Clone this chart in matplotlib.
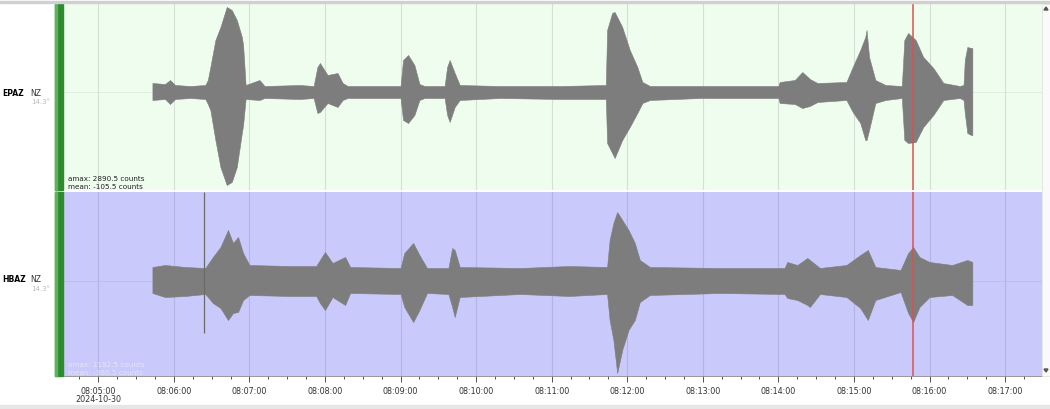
import numpy as np
import matplotlib
matplotlib.use("Agg")
import matplotlib.pyplot as plt
from matplotlib.patches import Rectangle, Polygon
from matplotlib.ticker import MultipleLocator, FuncFormatter

# seconds after 08:05:00 on 2024-10-30
epaz_t = [43, 53, 57, 61, 73, 85, 87, 89, 93, 97, 102, 106, 110, 114, 115, 117,
          128, 132, 160, 171, 174, 176, 182, 190, 194, 198, 240, 242, 246, 251,
          255, 259, 275, 277, 279, 283, 287, 319, 367, 403, 404, 408, 410, 416,
          422, 428, 432, 438, 478, 540, 541, 553, 559, 565, 571, 594, 599, 605,
          609, 610, 612, 617, 625, 638, 640, 643, 649, 655, 663, 671, 684, 687,
          688, 690, 693, 694]
epaz_hi = [297, 264, 396, 231, 198, 231, 396, 825, 1716, 2145, 2805, 2706, 2376,
           1815, 1551, 231, 396, 198, 231, 198, 825, 957, 561, 627, 297, 198, 198,
           1056, 1221, 891, 264, 198, 198, 825, 1056, 627, 231, 198, 198, 231,
           2046, 2607, 2640, 2145, 1386, 825, 330, 198, 198, 198, 330, 396, 660,
           429, 297, 330, 825, 1386, 1815, 2046, 1155, 396, 231, 198, 1716, 1947,
           1716, 1155, 792, 297, 198, 231, 1056, 1485, 1452, 1452]
epaz_lo = [-264, -231, -396, -231, -198, -231, -396, -594, -1584, -2475, -3069,
           -2970, -2475, -1353, -1089, -231, -264, -198, -231, -198, -693, -660,
           -363, -495, -264, -198, -198, -924, -1023, -759, -264, -198, -198,
           -759, -990, -495, -264, -198, -231, -231, -1683, -2013, -2178, -1584,
           -1155, -693, -363, -264, -198, -198, -363, -396, -528, -462, -330,
           -264, -660, -1023, -1584, -1584, -1254, -363, -264, -198, -1584, -1683,
           -1650, -1155, -759, -264, -198, -264, -693, -1353, -1419, -1419]

hbaz_t = [43, 53, 69, 85, 91, 97, 103, 107, 111, 115, 120, 152, 173, 176, 180,
          186, 196, 200, 240, 243, 250, 255, 261, 278, 281, 283, 287, 335, 374,
          404, 406, 409, 412, 416, 421, 426, 430, 438, 494, 545, 547, 555, 563,
          565, 573, 594, 605, 611, 617, 637, 643, 647, 652, 660, 678, 690, 694]
hbaz_hi = [182, 208, 182, 169, 312, 442, 663, 494, 572, 364, 208, 195, 195, 273,
           377, 234, 312, 182, 169, 364, 494, 338, 169, 169, 429, 403, 182, 169,
           195, 182, 533, 754, 897, 793, 663, 494, 273, 182, 169, 169, 247, 208,
           299, 273, 169, 208, 338, 403, 182, 143, 364, 442, 312, 247, 208, 273,
           247]
hbaz_lo = [-156, -208, -195, -169, -286, -351, -507, -416, -403, -247, -182,
           -195, -195, -286, -377, -208, -312, -156, -169, -338, -533, -377,
           -156, -169, -338, -468, -208, -169, -195, -169, -507, -767, -1196,
           -897, -637, -507, -273, -182, -156, -169, -221, -247, -312, -338,
           -169, -208, -351, -507, -247, -143, -416, -533, -338, -208, -182,
           -312, -312]

# single glitch in HBAZ
hbaz_spike_t = 84
hbaz_spike = [-676, 1160]

stations = ["EPAZ", "HBAZ"]
network = "NZ"
distance = "14.3°"
amax = ["2890.5", "1192.5"]
mean = ["-105.5", "-360.5"]
pick_t = 647  # red marker, 08:15:47
date_label = "2024-10-30"

W, H = 1050, 409
fig = plt.figure(figsize=(W / 100, H / 100), dpi=100)
fig.patch.set_facecolor("white")

def fx(px):
    return px / W

def fy(py):
    return 1 - py / H

xlim = (-27.2, 749.3)
left, right = 64, 1042
ax1 = fig.add_axes([fx(left), fy(190), fx(right - left), (190 - 4) / H])
ax2 = fig.add_axes([fx(left), fy(376), fx(right - left), (376 - 192) / H])

trace_col = "#7d7d7d"
for ax, bg, grid, t, hi, lo, ylim in [
        (ax1, "#effdef", "#d3e0d3", epaz_t, epaz_hi, epaz_lo, (-3234, 2904)),
        (ax2, "#c9c9fb", "#b4b4e2", hbaz_t, hbaz_hi, hbaz_lo, (-1235, 1157))]:
    ax.set_facecolor(bg)
    ax.set_xlim(*xlim)
    ax.set_ylim(*ylim)
    for m in range(0, 13):
        ax.axvline(m * 60, color=grid, lw=0.8, zorder=0)
    ax.axhline(0, color=grid, lw=0.6, alpha=0.6, zorder=0)
    ax.fill_between(t, lo, hi, color=trace_col, lw=0.4, edgecolor=trace_col, zorder=2)
    ax.axvline(pick_t, color="#d9534f", lw=1.1, zorder=3)
    for s in ax.spines.values():
        s.set_visible(False)
    ax.set_yticks([])

ax2.vlines(hbaz_spike_t, hbaz_spike[0], hbaz_spike[1], color="#6a6a6a", lw=0.9, zorder=2)

ax1.set_xticks([])
ax2.spines["bottom"].set_visible(True)
ax2.spines["bottom"].set_color("#888888")
ax2.spines["bottom"].set_linewidth(0.6)
ax2.xaxis.set_major_locator(MultipleLocator(60))
ax2.xaxis.set_minor_locator(MultipleLocator(15))
ax2.xaxis.set_major_formatter(FuncFormatter(
    lambda v, p: "08:%02d:%02d" % (5 + int(v) // 60, int(v) % 60)))
ax2.tick_params(axis="x", which="major", length=4, width=0.6, color="#333333",
                labelsize=5.8, labelcolor="#333333", pad=4)
ax2.tick_params(axis="x", which="minor", length=2.5, width=0.6, color="#333333")

# amplitude notes
ax1.text(0.004, 0.045, "amax: %s counts" % amax[0], transform=ax1.transAxes,
         fontsize=5.2, color="#222222", va="bottom")
ax1.text(0.004, 0.0, "mean: %s counts" % mean[0], transform=ax1.transAxes,
         fontsize=5.2, color="#222222", va="bottom")
ax2.text(0.004, 0.045, "amax: %s counts" % amax[1], transform=ax2.transAxes,
         fontsize=5.2, color="#e4e4fb", va="bottom")
ax2.text(0.004, 0.0, "mean: %s counts" % mean[1], transform=ax2.transAxes,
         fontsize=5.2, color="#e4e4fb", va="bottom")

# station labels on the left
for name, yc in zip(stations, [93, 280]):
    fig.text(fx(2), fy(yc), name, fontsize=5.5, fontweight="bold", va="center")
    fig.text(fx(30), fy(yc), network, fontsize=5.5, va="center", color="#333333")
    fig.text(fx(50), fy(yc + 9), distance, fontsize=5, va="center", ha="right",
             color="#bbbbbb")

# green selector bars
for y0, y1 in [(4, 190), (192, 376)]:
    fig.patches.append(Rectangle((fx(55), fy(y1)), fx(8), (y1 - y0) / H,
                                 transform=fig.transFigure, color="#2e8b2e"))
    fig.patches.append(Rectangle((fx(55), fy(y1)), fx(2), (y1 - y0) / H,
                                 transform=fig.transFigure, color="#5fb35f"))

# frame bits: top rule, bottom strip, scrollbar
fig.patches.append(Rectangle((0, fy(2.5)), 1, 1.2 / H, transform=fig.transFigure,
                             color="#d0d0d0"))
fig.patches.append(Rectangle((0, 0), 1, 4 / H, transform=fig.transFigure,
                             color="#e6e6e6"))
fig.patches.append(Rectangle((fx(1042), fy(376)), fx(8), 372 / H,
                             transform=fig.transFigure, facecolor="#fafafa",
                             edgecolor="#dddddd", lw=0.5))
fig.patches.append(Polygon([[fx(1044), fy(10)], [fx(1048), fy(10)], [fx(1046), fy(7)]],
                           closed=True, transform=fig.transFigure, color="#555555"))
fig.patches.append(Polygon([[fx(1044), fy(369)], [fx(1048), fy(369)], [fx(1046), fy(372)]],
                           closed=True, transform=fig.transFigure, color="#555555"))

fig.text(fx(98), fy(399), date_label, fontsize=5.8, color="#333333", va="center",
         ha="center")

fig.savefig("out.png", dpi=100)
